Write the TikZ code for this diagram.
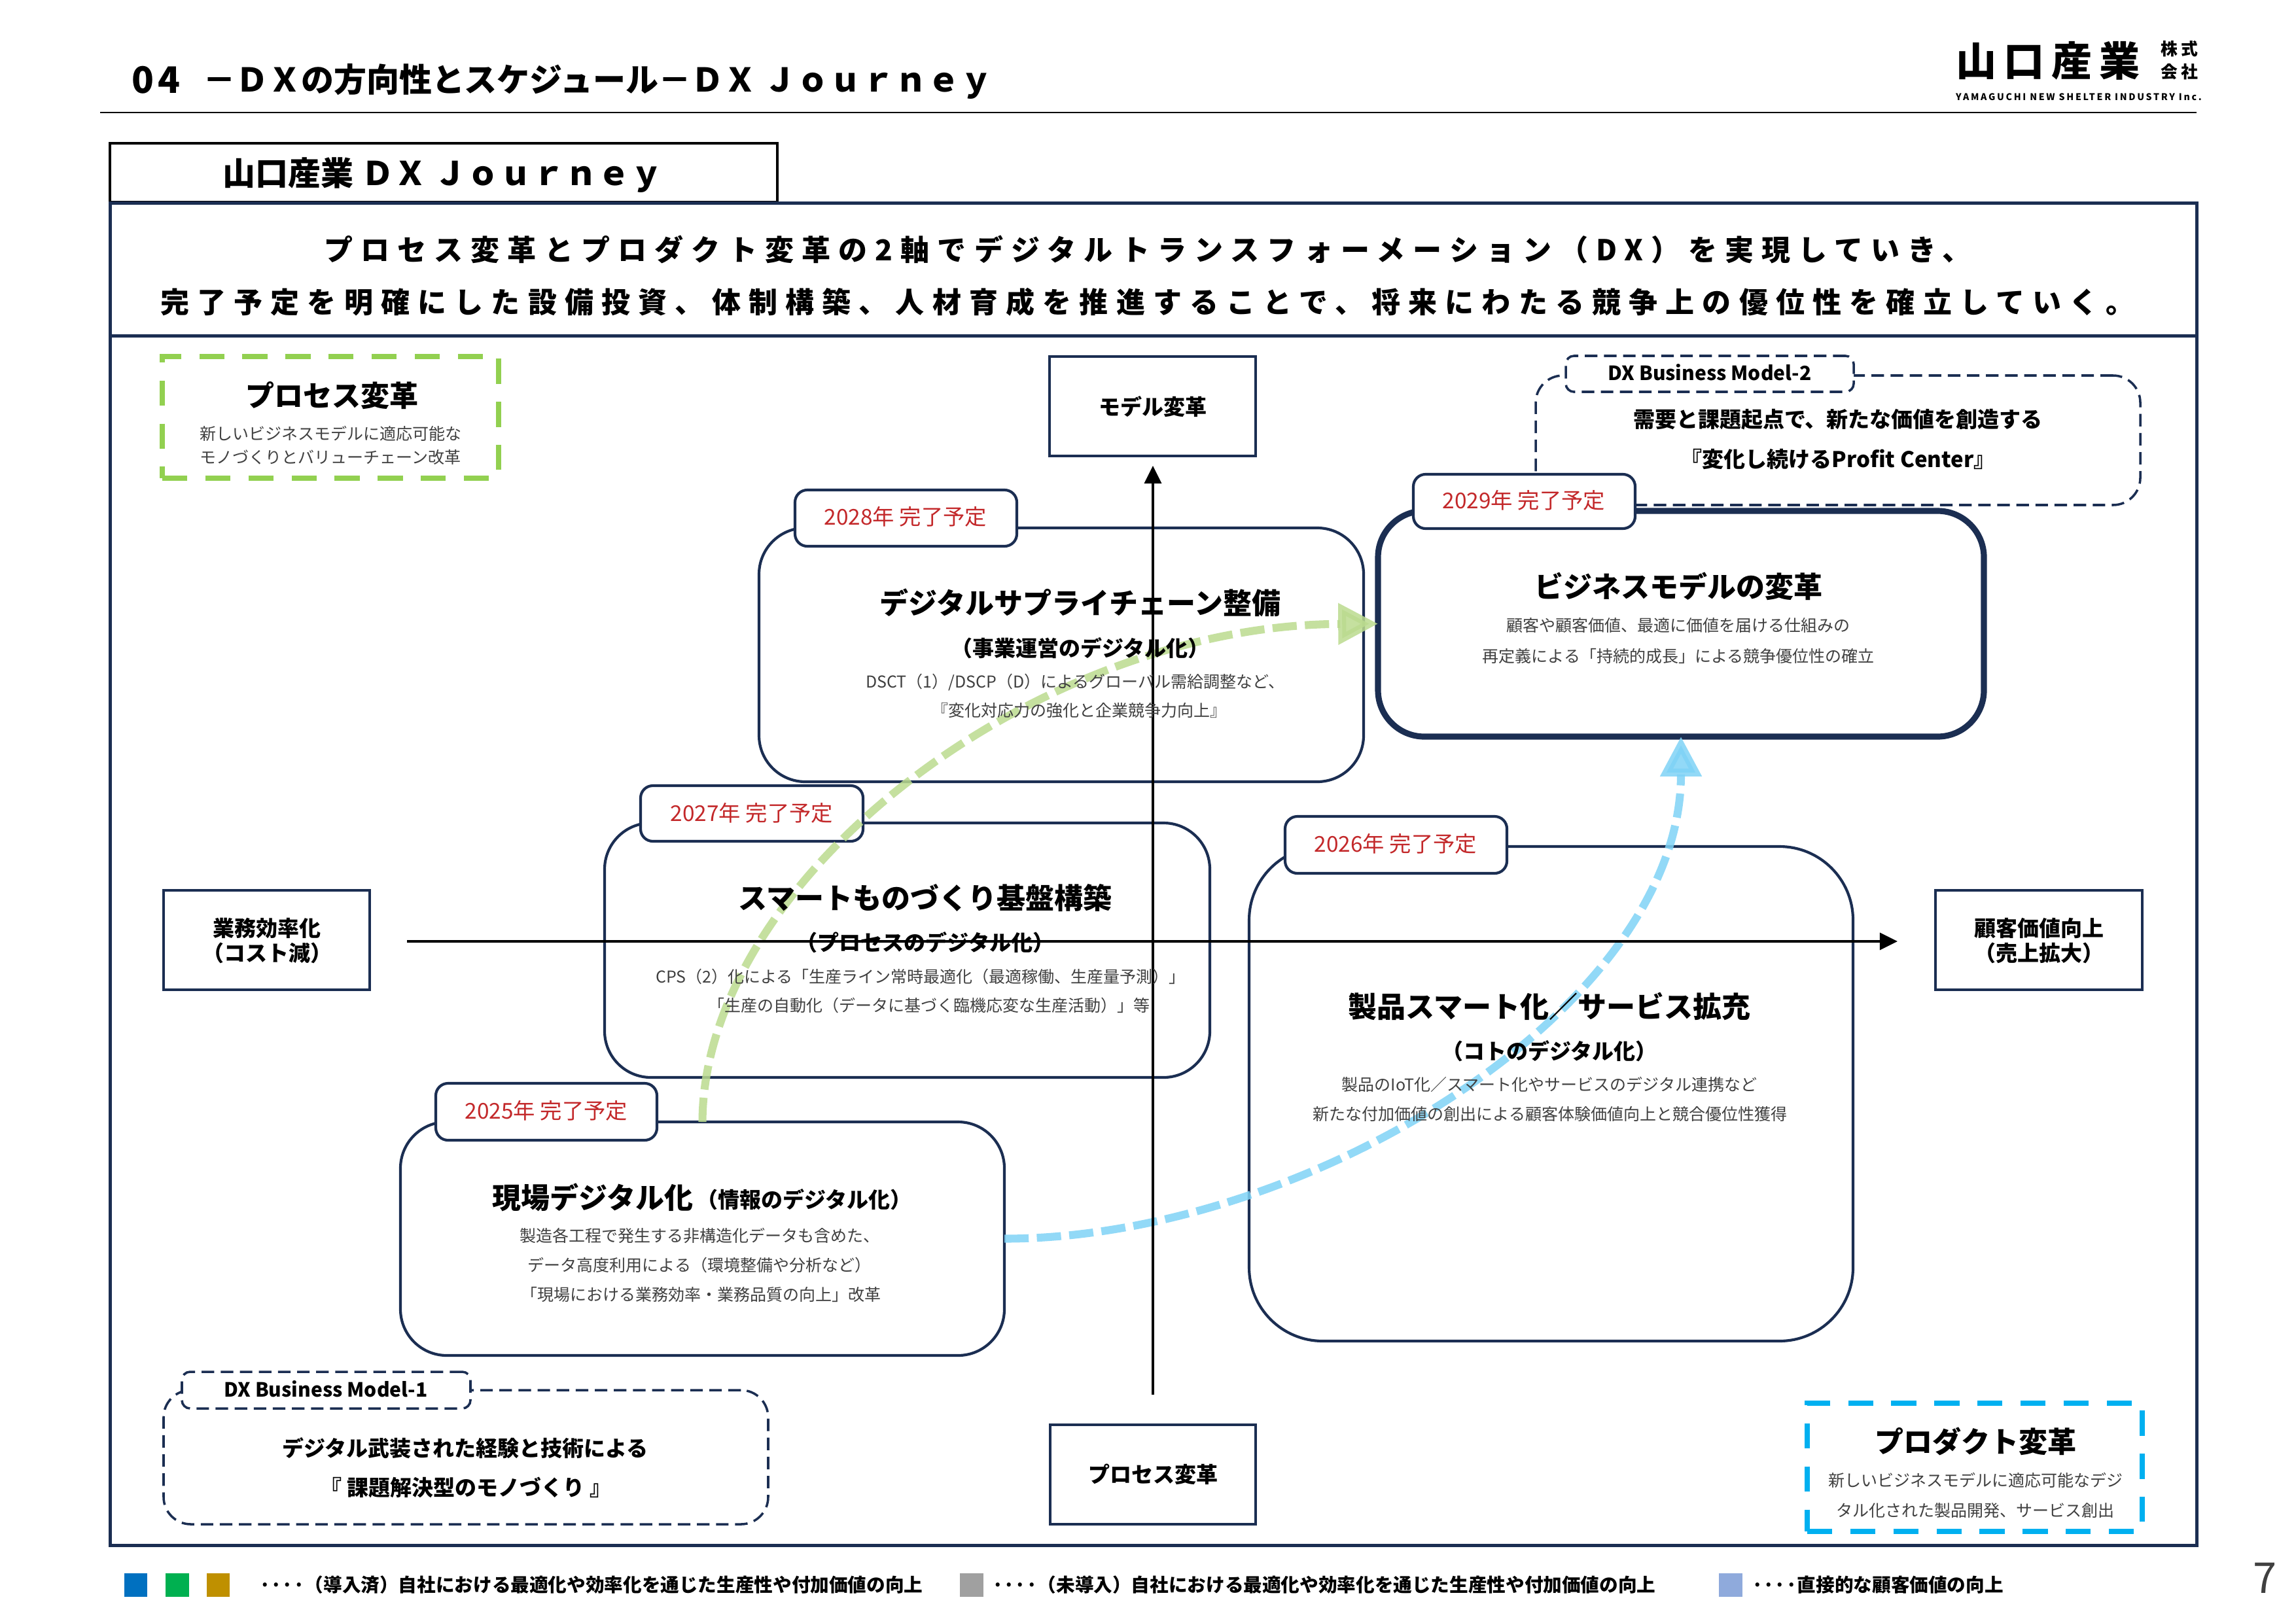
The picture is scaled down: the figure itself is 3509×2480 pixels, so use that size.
\documentclass[tikz,border=0pt]{standalone}
\usepackage{fontspec}
\setmainfont{Noto Sans CJK JP}
\usepackage{tikz}
\usetikzlibrary{arrows.meta}

\definecolor{navy}{HTML}{1B2E52}
\definecolor{duered}{HTML}{C3282A}
\definecolor{subgray}{HTML}{404040}
\definecolor{zonegreen}{HTML}{92D050}
\definecolor{zoneblue}{HTML}{00B0F0}
\definecolor{curvegreen}{HTML}{BBDB8F}
\definecolor{curveblue}{HTML}{7FD3F6}
\definecolor{keyblue}{HTML}{0070C0}
\definecolor{keygreen}{HTML}{00B050}
\definecolor{keygold}{HTML}{BF9000}
\definecolor{keygray}{HTML}{A0A0A0}
\definecolor{keylight}{HTML}{8FAADC}

\tikzset{
	size/.style 2 args={minimum width=#1*0.24pt,minimum height=#2*0.24pt},
	frame/.style={draw=navy,line width=1.2pt,fill=white},
	axisbox/.style={draw=navy,line width=1.05pt,fill=white},
	bigbox/.style={draw=navy,line width=1pt,fill=white,rounded corners=17pt},
	yeartag/.style={draw=navy,line width=1pt,fill=white,rounded corners=4.5pt},
	modelbox/.style={draw=navy,line width=.85pt,fill=white,rounded corners=#1,dash pattern=on 4.6pt off 2.4pt},
	zonebox/.style={draw=#1,line width=2.1pt,dash pattern=on 9.2pt off 6.6pt},
	curve/.style={draw=#1,opacity=.85,line width=2.9pt,dash pattern=on 8.9pt off 3pt,-{Triangle[length=14.6pt,width=14.6pt]}},
	textbox/.style={inner sep=0pt,text height=#1*0.2112pt,text depth=#1*0.0288pt},
	head/.style={textbox=44,yshift=-.5pt,font=\bfseries\fontsize{10.56pt}{12pt}\selectfont},
	mid/.style={textbox=33,yshift=-.5pt,font=\bfseries\fontsize{7.92pt}{10pt}\selectfont},
	small/.style={textbox=25,text=subgray,font=\fontsize{6pt}{8pt}\selectfont},
	year/.style={textbox=33,text=duered,font=\fontsize{8pt}{10pt}\selectfont},
	legend/.style={textbox=29,anchor=west,font=\bfseries\fontsize{6.87pt}{8pt}\selectfont},
	lead/.style={head,font=\bfseries\fontsize{10.56pt}{12pt}\selectfont\addfontfeature{LetterSpace=27.7}},
	logosmall/.style={textbox=27,anchor=west,font=\bfseries\fontsize{6.2pt}{7pt}\selectfont\addfontfeature{LetterSpace=22}}
}

\begin{document}
\begin{tikzpicture}[x=0.24pt,y=-0.24pt,every node/.style={inner sep=0pt,outer sep=0pt}]
	\useasboundingbox (0,0) rectangle (3509,2480);

	\coordinate (nRuleL) at (153,172);
	\coordinate (nRuleR) at (3357,172);
	\draw[line width=.7pt] (nRuleL) -- (nRuleR);

	\node[textbox=56,anchor=west,font=\bfseries\fontsize{13.4pt}{14pt}\selectfont\addfontfeature{LetterSpace=12}] (nTitleNo) at (201,121) {04};
	\node[textbox=50,anchor=west,font=\bfseries\fontsize{12pt}{14pt}\selectfont] (nTitle) at (310,121)
		{－ＤＸの方向性とスケジュール－ＤＸ Ｊｏｕｒｎｅｙ};
	\node[textbox=62,anchor=west,font=\bfseries\fontsize{14.9pt}{16pt}\selectfont\addfontfeature{LetterSpace=18}] (nLogo) at (2989,93) {山口産業};
	\node[logosmall] (nLogoA) at (3302,74) {株式};
	\node[logosmall] (nLogoB) at (3302,109) {会社};
	\node[textbox=14,anchor=west,font=\bfseries\fontsize{3.4pt}{4pt}\selectfont\addfontfeature{LetterSpace=19}] (nLogoC) at (2989,148) {YAMAGUCHI NEW SHELTER INDUSTRY Inc.};

	\node[draw=black,line width=.75pt,size={1020}{90}] (nTab) at (678,264) {};
	\node[frame,size={3189}{203}] (nHead) at (1762.5,411.5) {};
	\node[frame,size={3189}{1849}] (nFrame) at (1762.5,1437.5) {};
	\node[textbox=50,font=\bfseries\fontsize{12pt}{14pt}\selectfont] (nTabTxt) at (677,264) {山口産業 ＤＸ Ｊｏｕｒｎｅｙ};
	\node[lead] (nHeadA) at (1754,380)
		{プロセス変革とプロダクト変革の2軸でデジタルトランスフォーメーション（DX）を実現していき、};
	\node[lead] (nHeadB) at (1754,460)
		{完了予定を明確にした設備投資、体制構築、人材育成を推進することで、将来にわたる競争上の優位性を確立していく。};

	\node[zonebox=zonegreen,size={514}{186}] (nZoneA) at (505,638) {};
	\node[zonebox=zoneblue,size={512}{196}] (nZoneB) at (3018,2243) {};

	\node[axisbox,size={315}{152}] (nModel) at (1761.5,621) {};
	\node[axisbox,size={314}{152}] (nProc) at (1762,2254) {};
	\node[axisbox,size={315}{152}] (nCost) at (407.5,1437) {};
	\node[axisbox,size={316}{152}] (nValue) at (3116,1437) {};

	\node[modelbox=10pt,size={924}{205}] (nMA) at (712,2227.5) {};
	\node[modelbox=3pt,size={441}{56}] (nMAt) at (498.5,2125) {};
	\node[modelbox=10pt,size={924}{198}] (nMB) at (2809,673) {};
	\node[modelbox=3pt,size={440}{55}] (nMBt) at (2613,571.5) {};

	\node[bigbox,size={923}{357}] (nB25) at (1073.5,1893.5) {};
	\node[bigbox,size={925}{389}] (nB27) at (1386.5,1452.5) {};
	\node[bigbox,size={924}{388}] (nB28) at (1622,1001) {};
	\node[bigbox,rounded corners=27pt,size={923}{756}] (nB26) at (2370.5,1672) {};
	\node[bigbox,line width=2.2pt,size={926}{345}] (nB29) at (2569,953.5) {};

	\node[yeartag,size={338}{87}] (nT25) at (835,1699.5) {};
	\node[yeartag,size={340}{85}] (nT27) at (1149,1243.5) {};
	\node[yeartag,size={339}{86}] (nT28) at (1384.5,792) {};
	\node[yeartag,size={339}{87}] (nT26) at (2133.5,1291.5) {};
	\node[yeartag,size={339}{83}] (nT29) at (2329.5,766.5) {};

	\draw[curve=curvegreen] (nB25.north) .. controls (1075,1345) and (1580,956) .. (nB29.west);
	\draw[curve=curveblue] (nB25.east) .. controls (2000,1893) and (2569,1540) .. (nB29.south);

	\coordinate (nAxisL) at (622,1439);
	\coordinate (nAxisR) at (2900,1439);
	\coordinate (nAxisD) at (1762,2132);
	\coordinate (nAxisU) at (1762,712);
	\draw[line width=.96pt,-{Triangle[length=6.5pt,width=6.2pt]}] (nAxisL) -- (nAxisR);
	\draw[line width=.96pt,-{Triangle[length=6.5pt,width=6.2pt]}] (nAxisD) -- (nAxisU);

	\node[head] (nZoneAa) at (507,603) {プロセス変革};
	\node[small] (nZoneAb) at (505,663) {新しいビジネスモデルに適応可能な};
	\node[small] (nZoneAc) at (505,699) {モノづくりとバリューチェーン改革};
	\node[head] (nZoneBa) at (3019,2202) {プロダクト変革};
	\node[small] (nZoneBb) at (3019,2263) {新しいビジネスモデルに適応可能なデジ};
	\node[small] (nZoneBc) at (3019,2309) {タル化された製品開発、サービス創出};

	\node[mid] (nModelTxt) at (1762,620) {モデル変革};
	\node[mid] (nProcTxt) at (1762,2252) {プロセス変革};
	\node[mid] (nCostA) at (408,1417) {業務効率化};
	\node[mid] (nCostB) at (408,1455) {（コスト減）};
	\node[mid] (nValueA) at (3116,1417) {顧客価値向上};
	\node[mid] (nValueB) at (3116,1455) {（売上拡大）};

	\node[textbox=30,font=\bfseries\fontsize{7.2pt}{8pt}\selectfont] (nMAtt) at (498,2124) {DX Business Model-1};
	\node[mid] (nMAa) at (711,2212) {デジタル武装された経験と技術による};
	\node[mid] (nMAb) at (712,2272) {『 課題解決型のモノづくり 』};
	\node[textbox=30,font=\bfseries\fontsize{7.2pt}{8pt}\selectfont] (nMBtt) at (2613,570) {DX Business Model-2};
	\node[mid] (nMBa) at (2809,639) {需要と課題起点で、新たな価値を創造する};
	\node[mid] (nMBb) at (2809,700) {『変化し続けるProfit Center』};

	\node[year] (nY25) at (835,1698) {2025年 完了予定};
	\node[year] (nY27) at (1149,1243) {2027年 完了予定};
	\node[year] (nY28) at (1384,790) {2028年 完了予定};
	\node[year] (nY26) at (2133,1290) {2026年 完了予定};
	\node[year] (nY29) at (2329,765) {2029年 完了予定};

	\node[head,anchor=west] (nB25a) at (752,1829) {現場デジタル化};
	\node[mid,anchor=west] (nB25b) at (1064,1832) {（情報のデジタル化）};
	\node[small] (nB25c) at (1069,1889) {製造各工程で発生する非構造化データも含めた、};
	\node[small] (nB25d) at (1069,1934) {データ高度利用による（環境整備や分析など）};
	\node[small] (nB25e) at (1071,1979) {「現場における業務効率・業務品質の向上」改革};

	\node[head] (nB27a) at (1414,1371) {スマートものづくり基盤構築};
	\node[mid] (nB27b) at (1414,1439) {（プロセスのデジタル化）};
	\node[small] (nB27c) at (1407,1493) {CPS（2）化による「生産ライン常時最適化（最適稼働、生産量予測）」};
	\node[small] (nB27d) at (1420,1537) {「生産の自動化（データに基づく臨機応変な生産活動）」等};

	\node[head] (nB28a) at (1651,920) {デジタルサプライチェーン整備};
	\node[mid] (nB28b) at (1651,989) {（事業運営のデジタル化）};
	\node[small] (nB28c) at (1643,1042) {DSCT（1）/DSCP（D）によるグローバル需給調整など、};
	\node[small] (nB28d) at (1649,1086) {『変化対応力の強化と企業競争力向上』};

	\node[head] (nB26a) at (2368,1537) {製品スマート化／サービス拡充};
	\node[mid] (nB26b) at (2368,1605) {（コトのデジタル化）};
	\node[small] (nB26c) at (2368,1658) {製品のIoT化／スマート化やサービスのデジタル連携など};
	\node[small] (nB26d) at (2369,1703) {新たな付加価値の創出による顧客体験価値向上と競合優位性獲得};

	\node[head] (nB29a) at (2565,895) {ビジネスモデルの変革};
	\node[small] (nB29b) at (2565,956) {顧客や顧客価値、最適に価値を届ける仕組みの};
	\node[small] (nB29c) at (2565,1003) {再定義による「持続的成長」による競争優位性の確立};

	\node[fill=keyblue,size={35}{36}] (nKeyA) at (207.5,2423) {};
	\node[fill=keygreen,size={36}{36}] (nKeyB) at (271,2423) {};
	\node[fill=keygold,size={35}{36}] (nKeyC) at (333.5,2423) {};
	\node[fill=keygray,size={36}{36}] (nKeyD) at (1485,2423) {};
	\node[fill=keylight,size={36}{36}] (nKeyE) at (2645,2423) {};
	\node[legend] (nLegA) at (396,2422) {····（導入済）自社における最適化や効率化を通じた生産性や付加価値の向上};
	\node[legend] (nLegB) at (1516,2422) {····（未導入）自社における最適化や効率化を通じた生産性や付加価値の向上};
	\node[legend] (nLegC) at (2677,2422) {····直接的な顧客価値の向上};

	\node[textbox=65,font=\fontsize{15.6pt}{17pt}\selectfont,text=subgray] (nPage) at (3461,2411) {7};
\end{tikzpicture}
\end{document}
